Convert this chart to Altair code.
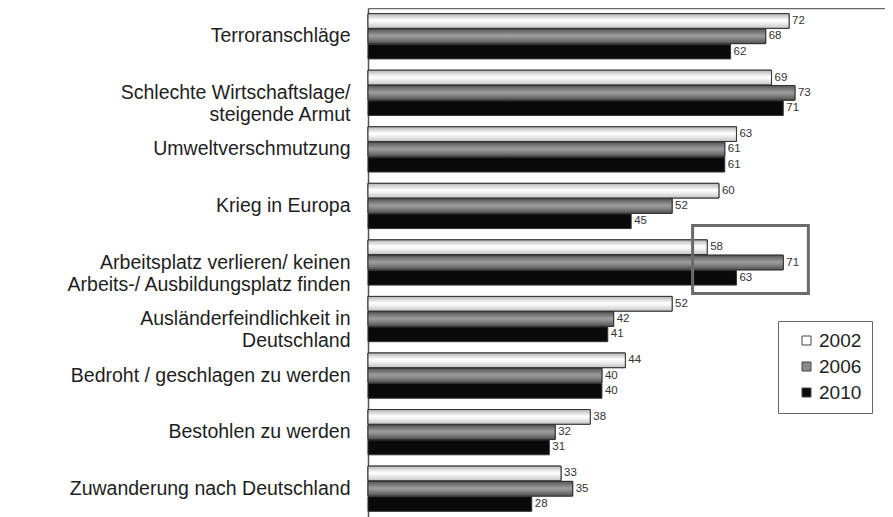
import altair as alt
import pandas as pd

categories = [
    "Terroranschläge",
    "Schlechte Wirtschaftslage/\nsteigende Armut",
    "Umweltverschmutzung",
    "Krieg in Europa",
    "Arbeitsplatz verlieren/ keinen\nArbeits-/ Ausbildungsplatz finden",
    "Ausländerfeindlichkeit in\nDeutschland",
    "Bedroht / geschlagen zu werden",
    "Bestohlen zu werden",
    "Zuwanderung nach Deutschland",
]
years = ["2002", "2006", "2010"]
v2002 = [72, 69, 63, 60, 58, 52, 44, 38, 33]
v2006 = [68, 73, 61, 52, 71, 42, 40, 32, 35]
v2010 = [62, 71, 61, 45, 63, 41, 40, 31, 28]

highlight_category = [categories[4]]
highlight_from = [55.5]
highlight_to = [75.3]

rows = []
for yr, vals in zip(years, [v2002, v2006, v2010]):
    for c, v in zip(categories, vals):
        rows.append({"category": c, "year": yr, "value": v})
df = pd.DataFrame(rows)
hl = pd.DataFrame({"category": highlight_category, "x_from": highlight_from, "x_to": highlight_to})

FONT = "Liberation Sans"

x_enc = alt.X(
    "value:Q",
    scale=alt.Scale(domain=[0, 88.4], nice=False, zero=True),
    axis=alt.Axis(orient="top", title=None, labels=False, ticks=False, grid=False,
                  domainColor="#666", domainWidth=1.5, minExtent=0, maxExtent=0),
)
y_enc = alt.Y(
    "category:N",
    sort=categories,
    scale=alt.Scale(domain=categories, paddingInner=0.2, paddingOuter=0.1),
    axis=alt.Axis(title=None, ticks=False, grid=False,
                  labelExpr="split(datum.label, '\\n')",
                  labelFontSize=19.5, labelFont=FONT, labelColor="#1e1e1e",
                  labelPadding=18, labelLineHeight=22, labelLimit=360,
                  minExtent=360, maxExtent=360,
                  domainColor="#555", domainWidth=1.5),
)
yoff_enc = alt.YOffset("year:N", sort=years,
                       scale=alt.Scale(domain=years, paddingInner=0.04, paddingOuter=0))

base = alt.Chart(df)

bars = base.mark_bar(stroke="#333", strokeWidth=1).encode(
    x=x_enc, y=y_enc, yOffset=yoff_enc,
    color=alt.Color(
        "year:N",
        scale=alt.Scale(domain=years, range=["#ffffff", "#8a8a8a", "#0a0a0a"]),
        legend=alt.Legend(title=None, orient="none", legendX=410, legendY=313,
                          symbolType="square", symbolSize=81,
                          symbolStrokeColor="#444", symbolStrokeWidth=1,
                          labelFontSize=19, labelFont=FONT, labelColor="#1e1e1e",
                          padding=10, strokeColor="#666", fillColor="white",
                          rowPadding=6, labelOffset=3, symbolOffset=9),
    ),
)

grad_white = {
    "gradient": "linear", "x1": 0, "y1": 0, "x2": 0, "y2": 1,
    "stops": [
        {"offset": 0, "color": "#b5b5b5"},
        {"offset": 0.45, "color": "#ffffff"},
        {"offset": 0.6, "color": "#f4f4f4"},
        {"offset": 1, "color": "#c4c4c4"},
    ],
}
grad_gray = {
    "gradient": "linear", "x1": 0, "y1": 0, "x2": 0, "y2": 1,
    "stops": [
        {"offset": 0, "color": "#555555"},
        {"offset": 0.45, "color": "#9c9c9c"},
        {"offset": 0.6, "color": "#8f8f8f"},
        {"offset": 1, "color": "#505050"},
    ],
}

over_white = base.transform_filter(alt.datum.year == "2002").mark_bar(
    fill=grad_white, stroke="#333", strokeWidth=1
).encode(x=x_enc, y=y_enc, yOffset=yoff_enc)

over_gray = base.transform_filter(alt.datum.year == "2006").mark_bar(
    fill=grad_gray, stroke="#333", strokeWidth=1
).encode(x=x_enc, y=y_enc, yOffset=yoff_enc)

labels = base.mark_text(align="left", baseline="middle", dx=3, fontSize=11.5,
                        font=FONT, color="#333").encode(
    x=x_enc, y=y_enc, yOffset=yoff_enc, text="value:Q"
)

box = alt.Chart(hl).mark_rect(filled=False, stroke="#6b6b6b", strokeWidth=3,
                              height=68, yOffset=-3).encode(
    x=alt.X("x_from:Q"), x2="x_to:Q",
    y=alt.Y("category:N", sort=categories),
)

chart = alt.layer(bars, over_white, over_gray, labels, box).properties(
    width=517, height=509, padding=0, background="white"
).configure_view(stroke=None)

chart.save("out.html", embed_options={"renderer": "svg", "actions": False})
